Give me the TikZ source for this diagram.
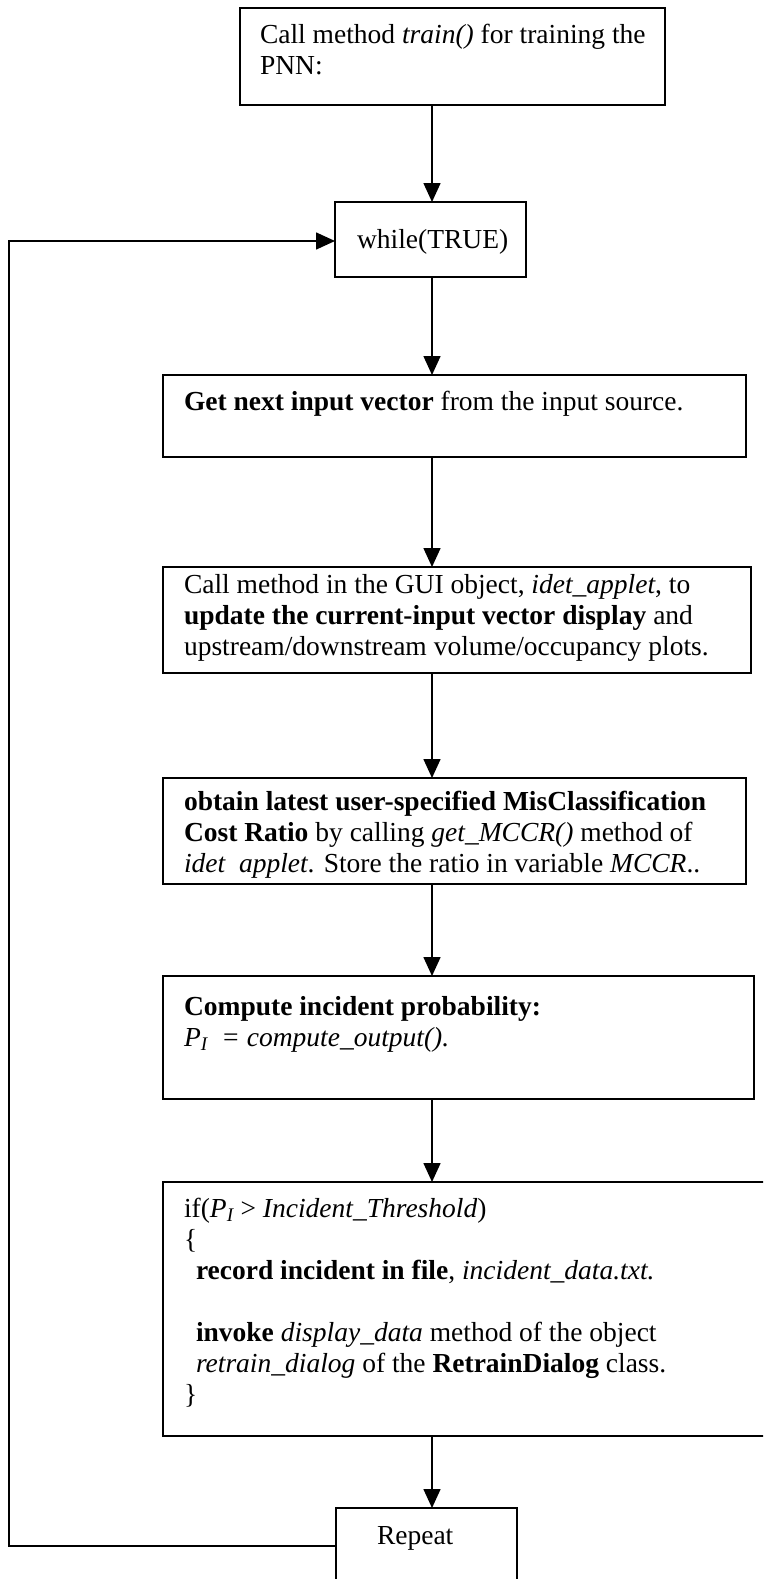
\documentclass[tikz,border=0pt]{standalone}
\usepackage{fontspec}
\setmainfont{Liberation Serif}
\usetikzlibrary{arrows.meta}
\tikzset{
  box/.style={draw, line width=1.6pt, rectangle, anchor=north west, inner sep=0pt, outer sep=0pt, fill=white},
  txt/.style={anchor=base west, inner sep=0pt, outer sep=0pt, font=\fontsize{27.5}{31}\selectfont},
  arr/.style={line width=1.6pt, -{Triangle[length=19pt,width=17pt]}},
}
\newcommand{\ml}[1]{\begin{tabular}[t]{@{}l@{}}#1\end{tabular}}
\begin{document}
\begin{tikzpicture}[x=1pt,y=-1pt]
\useasboundingbox (0,0) rectangle (763,1579);
\clip (0,0) rectangle (763,1579);
\fill[white] (0,0) rectangle (763,1579);

% boxes
\node[box, minimum width=425pt, minimum height=97pt] (b1) at (240,8) {};
\node[box, minimum width=191pt, minimum height=75pt] (b2) at (335,202) {};
\node[box, minimum width=583pt, minimum height=82pt] (b3) at (163,375) {};
\node[box, minimum width=588pt, minimum height=106pt] (b4) at (163,567) {};
\node[box, minimum width=583pt, minimum height=106pt] (b5) at (163,778) {};
\node[box, minimum width=591pt, minimum height=123pt] (b6) at (163,976) {};
\node[box, minimum width=620pt, minimum height=254pt] (b7) at (163,1182) {};
\node[box, minimum width=181pt, minimum height=90pt] (b8) at (336,1508) {};

% texts
\node[txt] (t1) at (260,44) {\ml{Call method \textit{train()} for training the\\PNN:}};
\node[txt] (t2) at (357,248) {while(TRUE)};
\node[txt] (t3) at (184,410) {\textbf{Get next input vector} from the input source.};
\node[txt] (t4) at (184,593) {\ml{Call method in the GUI object, \textit{idet\_applet}, to\\
\textbf{update the current-input vector display} and\\
upstream/downstream volume/occupancy plots.}};
\node[txt] (t5) at (184,810) {\ml{\textbf{obtain latest user-specified MisClassification}\\
\textbf{Cost Ratio} by calling \textit{get\_MCCR()} method of\\
\textit{idet\ \ applet}. Store the ratio in variable \textit{MCCR}..}};
\node[txt] (t6) at (184,1015) {\ml{\textbf{Compute incident probability:}\\
\textit{P\textsubscript{I}\ \ = compute\_output().}}};
\node[txt] (t7) at (184,1217) {\ml{if(\textit{P\textsubscript{I}} > \textit{Incident\_Threshold})\\
\{\\
\hspace*{12pt}\textbf{record incident in file}, \textit{incident\_data.txt.}\\
\\
\hspace*{12pt}\textbf{invoke} \textit{display\_data} method of the object\\
\hspace*{12pt}\textit{retrain\_dialog} of the \textbf{RetrainDialog} class.\\
\}}};
\node[txt] (t8) at (377,1544) {Repeat};

% connectors
\coordinate (ax) at (432,0);
\draw[arr] (b1.south -| ax) -- (b2.north -| ax);
\draw[arr] (b2.south -| ax) -- (b3.north -| ax);
\draw[arr] (b3.south -| ax) -- (b4.north -| ax);
\draw[arr] (b4.south -| ax) -- (b5.north -| ax);
\draw[arr] (b5.south -| ax) -- (b6.north -| ax);
\draw[arr] (b6.south -| ax) -- (b7.north -| ax);
\draw[arr] (b7.south -| ax) -- (b8.north -| ax);
\coordinate (lb) at (9,1546);
\coordinate (lt) at (9,241);
\draw[arr] (lb -| b8.west) -- (lb) -- (lt) -- (lt -| b2.west);
\end{tikzpicture}
\end{document}
